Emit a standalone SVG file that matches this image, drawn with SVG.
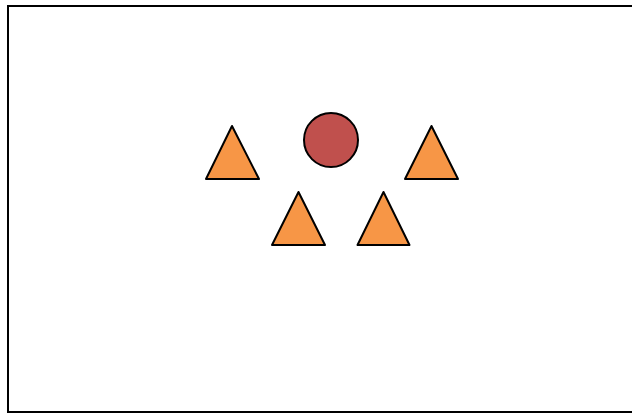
<svg xmlns="http://www.w3.org/2000/svg" width="632" height="414" viewBox="0 0 632 414">
<style>
.tri{fill:#F79646;stroke:#000;stroke-width:2;stroke-linejoin:round}
.circ{fill:#C0504D;stroke:#000;stroke-width:2}
</style>
<rect x="0" y="0" width="632" height="414" fill="#fff"/>
<rect x="8" y="6" width="640" height="406" fill="none" stroke="#000" stroke-width="2"/>
<g id="triangle-1"><polygon class="tri" points="232,126 259,179 206,179"/></g>
<g id="circle"><circle class="circ" cx="331" cy="140" r="27"/></g>
<g id="triangle-2"><polygon class="tri" points="431.5,126 458,179 405,179"/></g>
<g id="triangle-3"><polygon class="tri" points="298.5,192 325,245 272,245"/></g>
<g id="triangle-4"><polygon class="tri" points="383.5,192 409.5,245 357.5,245"/></g>
<g id="connectors"></g>
</svg>
